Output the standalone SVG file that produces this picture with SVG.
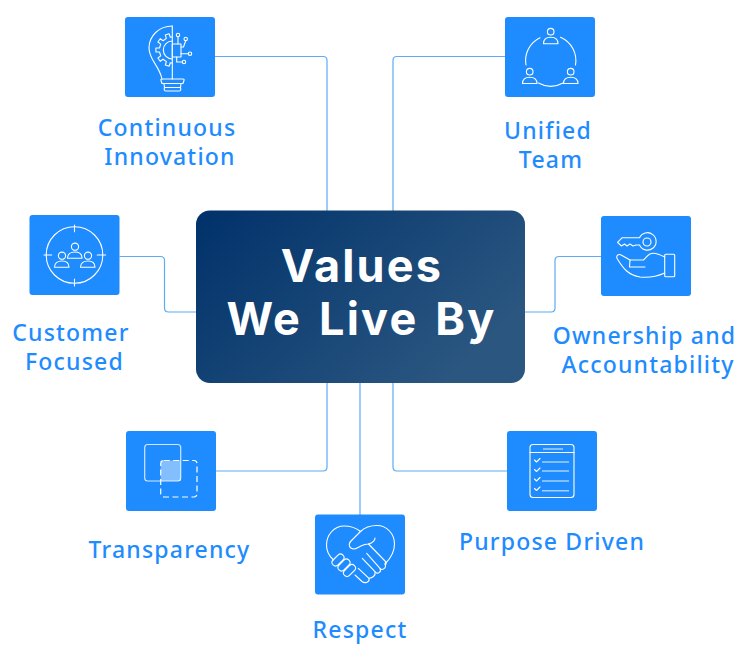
<svg xmlns="http://www.w3.org/2000/svg" width="753" height="659" viewBox="0 0 753 659">
<style>
.box{fill:#1e8bff}
.ic{fill:none;stroke:#fff;stroke-width:1.1;stroke-linecap:round;stroke-linejoin:round}
.lt{fill:none;stroke:#a5d0ff;stroke-width:1.6}
.con{fill:none;stroke:#5cabf6;stroke-width:1.2}
.lb{font-family:"Noto Sans","Open Sans",sans-serif;font-size:23px;font-weight:500;fill:#1e8bff;text-anchor:middle;letter-spacing:1.2px}
.ti{font-family:"Inter","Liberation Sans",sans-serif;font-size:45px;font-weight:700;fill:#fff;text-anchor:middle;letter-spacing:2.2px;word-spacing:4px}
</style>
<defs>
<linearGradient id="g" x1="0" y1="0" x2="1" y2="0.55">
<stop offset="0" stop-color="#00316a"/>
<stop offset="1" stop-color="#2a5680"/>
</linearGradient>
</defs>
<g id="connectors" class="con">
<path d="M215 56.5H323q4 0 4 4V211"/>
<path d="M505 56.5H397q-4 0-4 4V211"/>
<path d="M119.5 256.500H160.500q4 0 4 4V308q0 4 4 4H197"/>
<path d="M601 256.500H559q-4 0-4 4V308q0 4-4 4H524"/>
<path d="M216 471H323q4 0 4-4V382"/>
<path d="M360 382V515"/>
<path d="M507 471H397q-4 0-4-4V382"/>
</g>
<g id="center">
<rect x="196" y="210.500" width="329" height="172.500" rx="14" fill="url(#g)"/>
<text class="ti" x="362" y="282">Values</text>
<text class="ti" x="361.500" y="334.500">We Live By</text>
</g>
<g id="continuous-innovation">
<rect class="box" x="125" y="17" width="90" height="80" rx="3"/>
<g class="ic">
<path d="M172.300 26C159 26 149 36 149 48C149 60 159 65 162 79"/>
<path d="M172.300 26V79"/>
<path d="M172.300 37L170.300 37.200L169.100 33.800L165.300 35.050L166.400 38.400L163.100 40.800L160.200 38.700L157.900 42L160.700 44.100L159.500 48L155.900 48V52L159.500 52L160.700 55.900L157.900 58L160.200 61.300L163.100 59.200L166.400 61.600L165.300 65L169.100 66.200L170.300 62.800L172.300 63"/>
<path d="M172.300 41A9 9 0 0 0 172.300 59"/>
<rect x="172.300" y="44" width="8.700" height="13"/>
<circle cx="178" cy="35" r="1.700"/><path d="M178 36.700V44"/>
<circle cx="185.700" cy="39" r="1.700"/><path d="M185.700 40.700L183.500 47H181"/>
<circle cx="190" cy="53.700" r="1.700"/><path d="M188.300 53.700H181"/>
<circle cx="184" cy="62" r="1.700"/><path d="M182.300 62H176.700V57"/>
<path d="M162 79H183Q184.500 79 184 80.500L183 83.500H162L161 80.500Q160.500 79 162 79ZM164 83.500L164.500 87.500H180.500L181 83.500M164.500 87.500Q163.500 91 166 91H179Q181.500 91 180.500 87.500"/>
</g>
</g>
<g id="unified-team">
<rect class="box" x="505" y="17" width="90" height="80" rx="3"/>
<g class="ic">
<circle cx="550.700" cy="31.700" r="3.300"/>
<path d="M543.500 43.700C543.500 39 547 37.300 550.700 37.300C554.500 37.300 558 39 558 43.700Z"/>
<circle cx="529.700" cy="71.700" r="3.300"/>
<path d="M522.500 83.500C522.500 79 526 77.200 529.700 77.200C533.500 77.200 537 79 537 83.500Z"/>
<circle cx="570.700" cy="71.700" r="3.300"/>
<path d="M563.500 83.500C563.500 79 567 77.200 570.700 77.200C574.500 77.200 578 79 578 83.500Z"/>
<path d="M540 37.700A25.300 25.300 0 0 0 526 65"/>
<path d="M560.500 37.300A25.300 25.300 0 0 1 575.500 65"/>
<path d="M538.500 83A25.300 25.300 0 0 0 563 83"/>
</g>
</g>
<g id="customer-focused">
<rect class="box" x="29.500" y="215" width="90" height="80" rx="3"/>
<g class="ic">
<circle cx="74.500" cy="255" r="28.300"/>
<path d="M44 255H51.700M97.300 255H105.700M74.500 225V231.700M74.500 279V286"/>
<circle cx="75" cy="246.700" r="3.600"/>
<path d="M67.500 258.300C67.500 254 71 252 75 252C79 252 82 254 82 258.300Z"/>
<circle cx="62" cy="255.700" r="3.600"/>
<path d="M54.500 267.300C54.500 263 58 261 62 261C66 261 69 263 69 267.300Z"/>
<circle cx="88" cy="255.700" r="3.600"/>
<path d="M80.500 267.300C80.500 263 84 261 88 261C92 261 95 263 95 267.300Z"/>
</g>
</g>
<g id="ownership-accountability">
<rect class="box" x="601" y="216" width="90" height="80" rx="3"/>
<g class="ic">
<path d="M639.500 237.800H622L617.500 242.300L621.500 246L624.500 244L627 246L630 244L633 246L636 245H639.500A8.700 8.700 0 1 0 639.500 237.800Z"/>
<circle cx="647" cy="242" r="4"/>
<rect x="664.700" y="254.300" width="10" height="22.500" rx="1"/>
<path d="M664.700 257C658 254 654 252 650 254C647 255.500 646 258 643.500 260H630L622 255.500C618 253 615 256 618 260C623 268 628 275 640 277C650 278 658 276 664.700 273"/>
<path d="M630 260L629.500 267H645"/>
</g>
</g>
<g id="transparency">
<rect class="box" x="126" y="431" width="90" height="80" rx="3"/>
<rect x="160.700" y="460.500" width="20" height="20.500" fill="#fff" fill-opacity=".45"/>
<rect x="144.700" y="444.500" width="36" height="36.500" rx="3" fill="none" stroke="#fff" stroke-opacity=".8" stroke-width="1.200"/>
<rect x="160.700" y="460.500" width="36.300" height="36.500" rx="3" fill="none" stroke="#fff" stroke-width="1.200" stroke-dasharray="6 3.500"/>
</g>
<g id="respect">
<rect class="box" x="315" y="514.500" width="90" height="80" rx="3"/>
<g class="ic">
<path d="M360.500 531.500C355 527 349 526 344 526C334 526 326.500 535 326.500 545C326.500 551 329 556 333.500 560"/>
<path d="M360.500 531.500C365 527 371 525.500 377 525.500C387 525.500 394.500 534 394.500 544C394.500 551 391 558 385 564"/>
<path d="M360.500 531.500L351 541C348 544 349 549 354 549C357 549 362 544 368.500 544C373 543 375 540 375 538"/>
<path d="M368.500 544L385 561C387 563 386 565 385 564C387 568 382 571 380 568.300L366.700 553.300"/>
<path d="M380 568.500C382 572 377 575 375 571.700L362.300 558.300"/>
<path d="M375 572C376 576 372 578 369 578.300L358.300 568.300"/>
<path d="M369 578.300C370 582 365 584 362 581.500L355 575"/>
<rect x="331" y="556.500" width="14" height="7" rx="3.500" transform="rotate(-45 338 560)"/>
<rect x="337" y="561.500" width="14" height="7" rx="3.500" transform="rotate(-45 344 565)"/>
<rect x="342.500" y="567" width="14" height="7" rx="3.500" transform="rotate(-45 349.500 570.500)"/>
</g>
</g>
<g id="purpose-driven">
<rect class="box" x="507" y="431" width="90" height="80" rx="3"/>
<g class="ic">
<rect x="530" y="444.500" width="44" height="53" rx="3"/>
<path d="M530 452.500H574"/>
<path d="M534.500 460L536.500 462L540 458.500M534.500 469.500L536.500 471.500L540 468M534.500 479L536.500 481L540 477.500M534.500 488.500L536.500 490.500L540 487"/>
</g>
<path class="lt" d="M543 449H563M542 462H569M542 471H569M542 481H569M542 490.700H569"/>
</g>
<g id="labels">
<text class="lb" x="167" y="136">Continuous</text>
<text class="lb" x="170" y="165">Innovation</text>
<text class="lb" x="548" y="139">Unified</text>
<text class="lb" x="551" y="168">Team</text>
<text class="lb" x="71" y="341">Customer</text>
<text class="lb" x="74.500" y="370">Focused</text>
<text class="lb" x="644.500" y="344">Ownership and</text>
<text class="lb" x="648" y="373">Accountability</text>
<text class="lb" x="169.500" y="558">Transparency</text>
<text class="lb" x="360" y="638">Respect</text>
<text class="lb" x="552" y="550">Purpose Driven</text>
</g>
</svg>
